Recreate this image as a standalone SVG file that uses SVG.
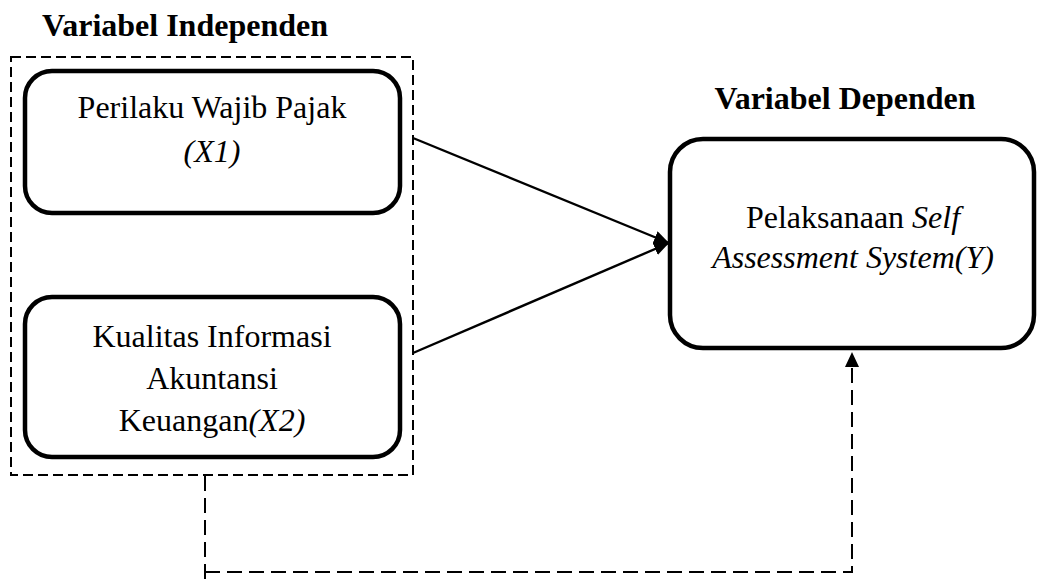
<svg xmlns="http://www.w3.org/2000/svg" width="1037" height="586" viewBox="0 0 1037 586">
<defs>
<style>
.box{fill:#fff;stroke:#000;stroke-width:4.5}
.dash{fill:none;stroke:#000;stroke-width:2;stroke-dasharray:10,5}
.dash2{fill:none;stroke:#000;stroke-width:2;stroke-dasharray:15,7}
.t{font-family:"Liberation Serif","Times New Roman",serif;font-size:32px;fill:#000;text-anchor:middle}
.h{font-weight:bold}
.i{font-style:italic}
.ln{stroke:#000;stroke-width:2.4;fill:none}
</style>
<marker id="ah" markerWidth="15" markerHeight="13" refX="15" refY="6.5" orient="auto" markerUnits="userSpaceOnUse">
<path d="M0,0 L15,6.5 L0,13 Z" fill="#000"/>
</marker>
</defs>
<rect width="1037" height="586" fill="#fff"/>
<text class="t h" x="185" y="36">Variabel Independen</text>
<text class="t h" x="845" y="109">Variabel Dependen</text>
<g id="group-independen">
<rect class="dash" x="11" y="57" width="402" height="418"/>
</g>
<g id="node-x1">
<rect class="box" x="25" y="71" width="375" height="142" rx="27"/>
<text class="t" x="212" y="118">Perilaku Wajib Pajak</text>
<text class="t i" x="212" y="162">(X1)</text>
</g>
<g id="node-x2">
<rect class="box" x="25" y="297" width="375" height="160" rx="27"/>
<text class="t" x="212" y="347">Kualitas Informasi</text>
<text class="t" x="212" y="389">Akuntansi</text>
<text class="t" x="212" y="431">Keuangan<tspan class="i">(X2)</tspan></text>
</g>
<g id="node-y">
<rect class="box" x="670" y="139" width="364" height="209" rx="33"/>
<text class="t" x="853" y="228">Pelaksanaan <tspan class="i">Self</tspan></text>
<text class="t i" x="853" y="268">Assessment System(Y)</text>
</g>
<g id="connectors">
<line class="ln" x1="413" y1="138" x2="669" y2="243" marker-end="url(#ah)"/>
<line class="ln" x1="413" y1="353" x2="669" y2="243" marker-end="url(#ah)"/>
<path class="dash2" d="M205,476 V586 M205,572 H852 V366"/>
<path d="M852,352 L845,367 L859,367 Z" fill="#000"/>
</g>
</svg>
